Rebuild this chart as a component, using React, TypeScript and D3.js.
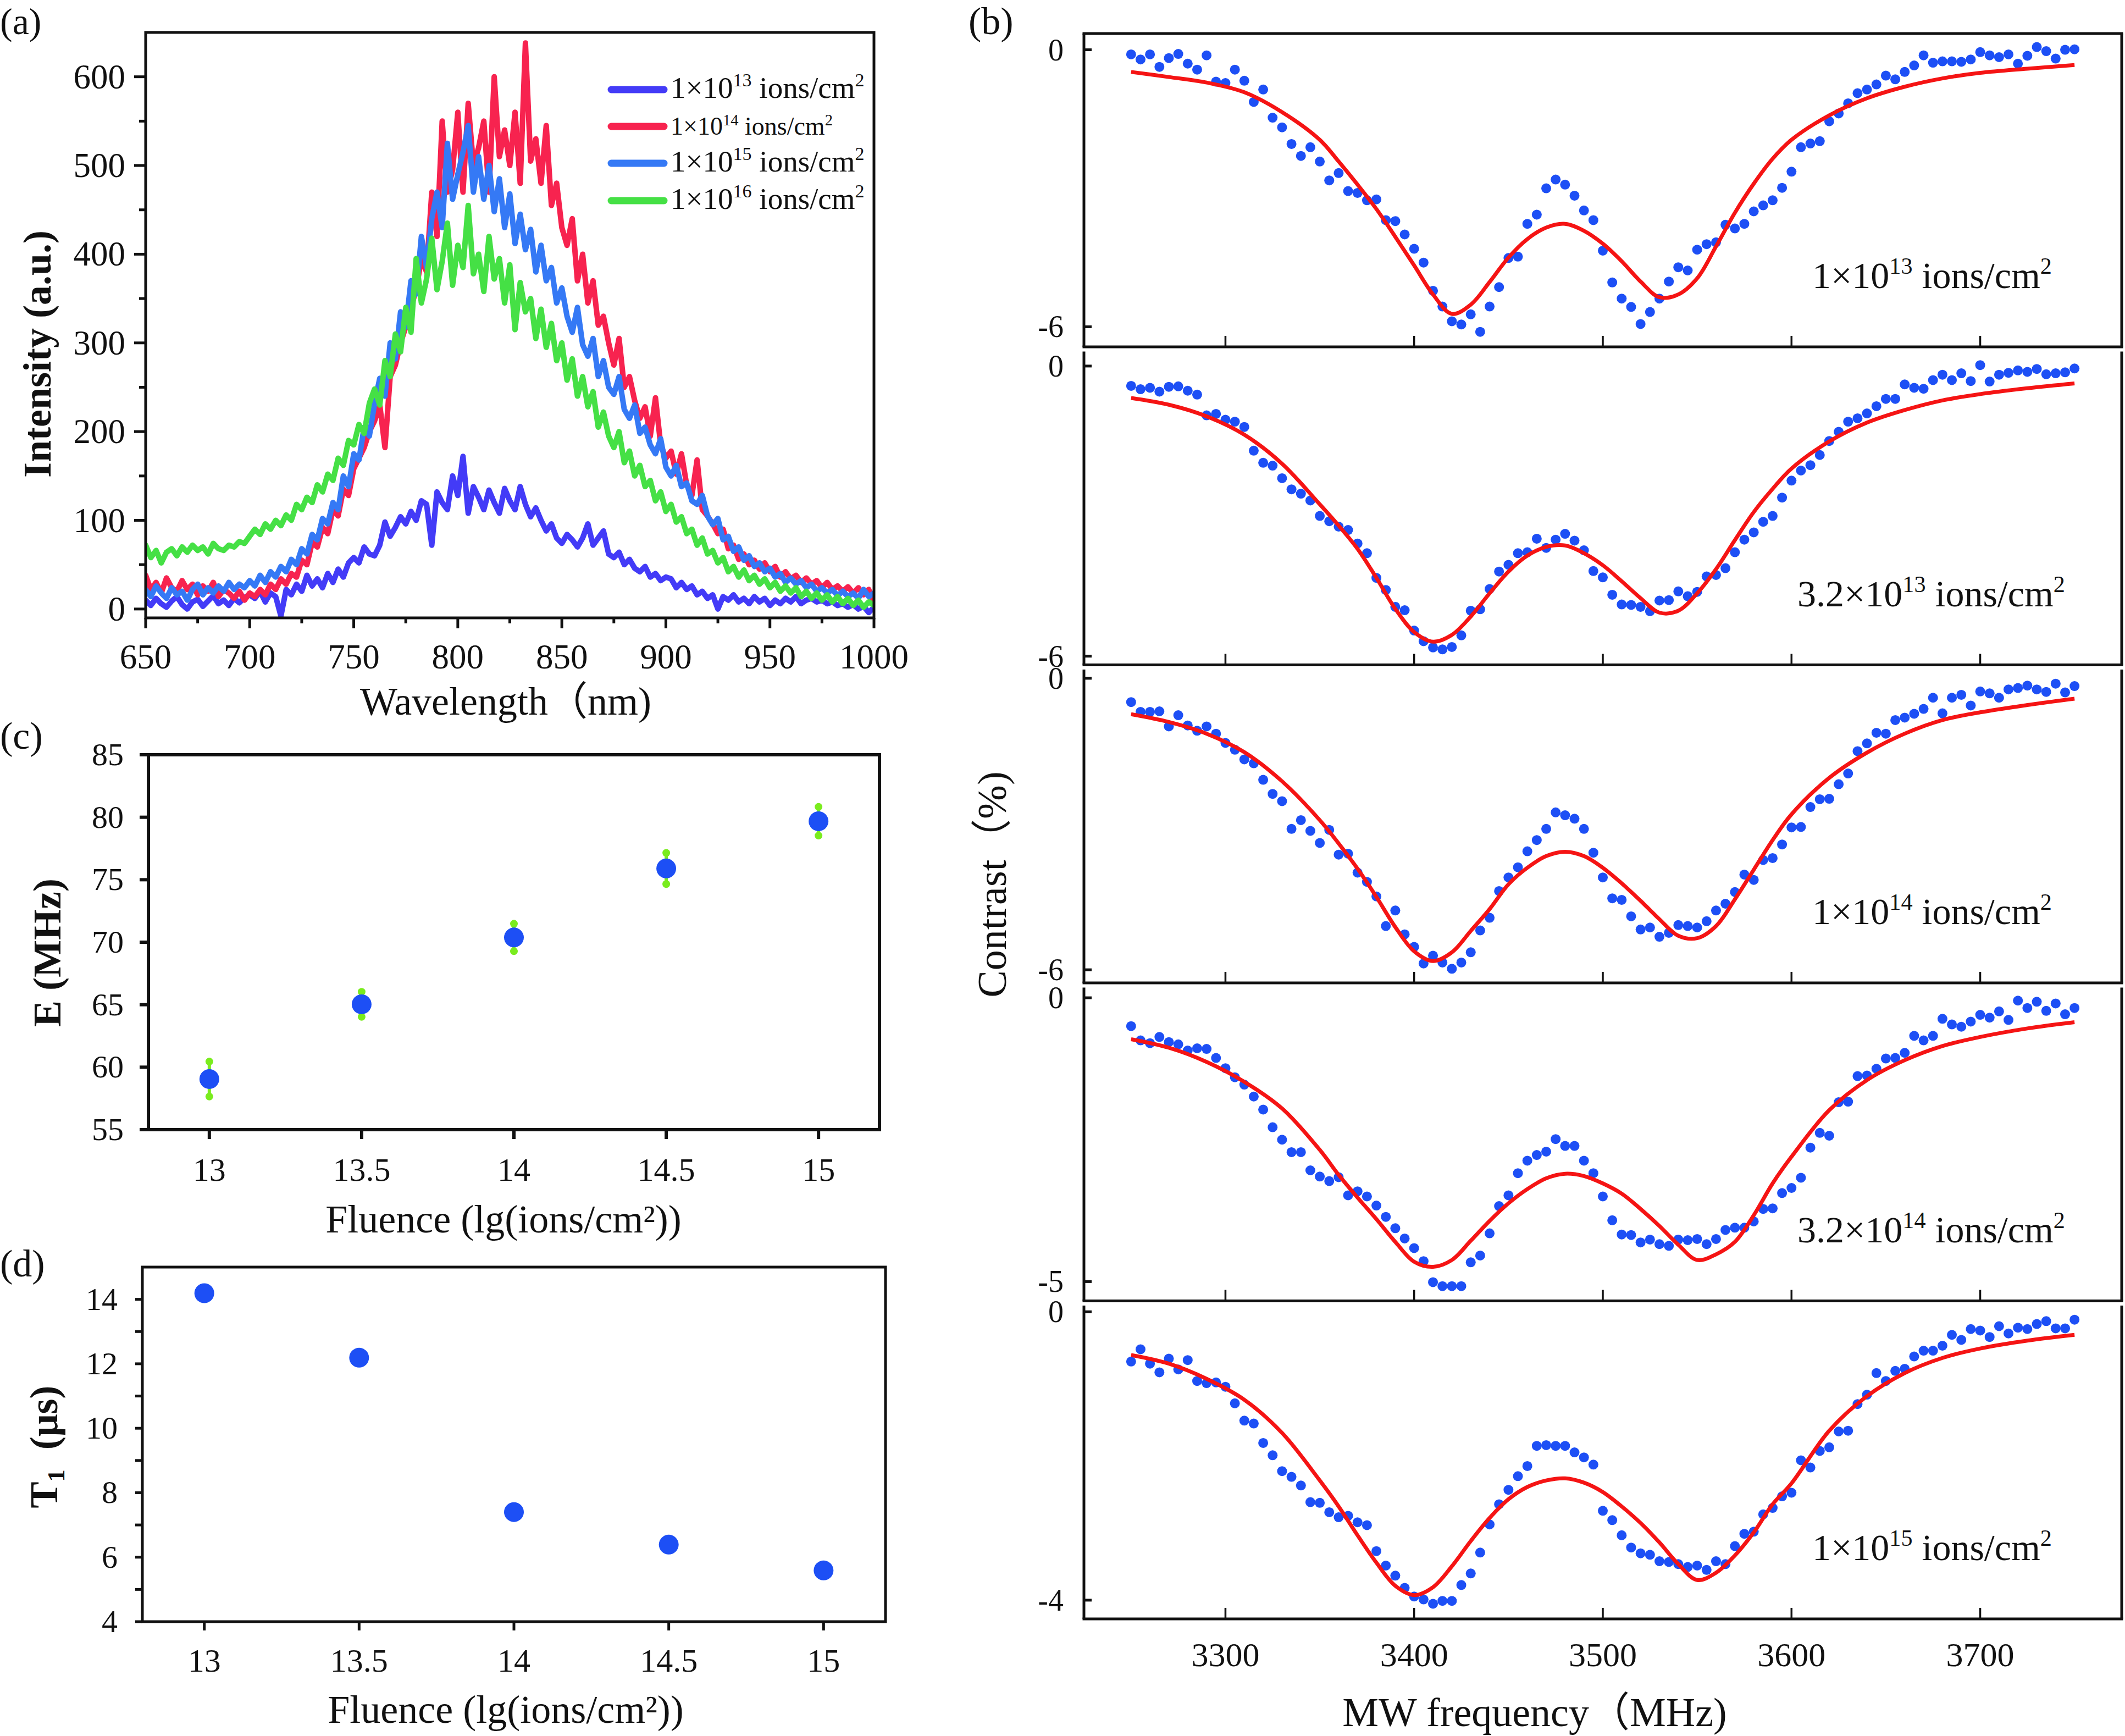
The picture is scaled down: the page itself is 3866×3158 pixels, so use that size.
import React from 'react';
import * as d3 from 'd3';

// ---------------- Panel (a): PL spectra ----------------
const wavelengthStart = 650;
const wavelengthStep = 2.5;
const intensity1e13 = [
  10, 4, 12, 6, 2, 9, 14, 5, 0, 8, 11, 3, 9, 15, 6, 10, 4, 12, 7, 13, 16,
  12, 20, 8, 18, 14, -8, 22, 16, 28, 20, 38, 26, 34, 24, 40, 30, 45, 36, 52,
  58, 52, 70, 62, 60, 72, 98, 82, 92, 104, 96, 110, 100, 122, 118, 72, 132, 120, 112, 150, 128,
  172, 108, 138, 126, 112, 134, 120, 108, 136, 122, 112, 138, 118, 104, 114, 100, 88, 96, 80, 74,
  84, 78, 70, 80, 96, 72, 80, 88, 62, 58, 64, 50, 56, 46, 42, 48, 36, 40, 32, 36,
  34, 24, 30, 22, 26, 16, 20, 12, 16, 0, 14, 10, 16, 8, 12, 6, 14, 8, 12, 4,
  10, 6, 12, 8, 14, 6, 10, 12, 8, 10, 6, 8, 4, 6, 2, 5, 0, 3, -4, 2,
];
const intensity1e14 = [
  38, 22, 30, 18, 35, 24, 20, 32, 22, 28, 16, 26, 20, 30, 14, 22, 18, 12, 20, 10, 18,
  14, 22, 16, 28, 22, 34, 28, 40, 36, 55, 50, 75, 70, 92, 85, 112, 105, 135, 128,
  158, 170, 182, 200, 212, 230, 182, 262, 275, 300, 318, 340, 360, 395, 380, 470, 420, 550, 470, 495, 560,
  470, 570, 500, 520, 550, 470, 600, 510, 540, 500, 560, 480, 638, 505, 530, 480, 545, 455, 480, 430,
  410, 440, 370, 400, 345, 370, 320, 330, 300, 275, 305, 250, 262, 235, 215, 228, 195, 238, 185, 170,
  178, 152, 175, 140, 128, 168, 112, 105, 96, 85, 90, 68, 72, 56, 62, 50, 55, 45, 52, 42,
  48, 36, 42, 34, 38, 30, 35, 28, 32, 24, 30, 22, 26, 20, 25, 18, 24, 16, 22, 6,
];
const intensity1e15 = [
  22, 14, 26, 18, 12, 24, 16, 20, 10, 22, 28, 16, 24, 18, 26, 20, 30, 22, 28, 24, 32,
  26, 38, 30, 42, 36, 48, 42, 56, 50, 68, 62, 84, 78, 102, 96, 120, 112, 150, 138,
  175, 168, 205, 195, 232, 260, 240, 300, 282, 335, 318, 370, 355, 420, 385, 440, 470, 430, 525, 462, 490,
  515, 545, 470, 510, 462, 500, 448, 485, 430, 468, 412, 445, 405, 428, 380, 410, 370, 385, 345, 362,
  330, 312, 340, 298, 285, 305, 262, 280, 250, 242, 262, 225, 215, 230, 198, 205, 185, 175, 192, 160,
  150, 162, 138, 142, 122, 118, 128, 105, 95, 102, 78, 82, 65, 70, 55, 60, 48, 52, 42, 46,
  36, 40, 30, 35, 28, 32, 24, 28, 20, 24, 18, 22, 15, 20, 14, 18, 12, 22, 14, 18,
];
const intensity1e16 = [
  72, 58, 66, 52, 64, 68, 60, 70, 64, 72, 66, 70, 62, 74, 68, 66, 72, 70, 76, 74, 82,
  90, 84, 96, 90, 100, 94, 106, 100, 118, 112, 126, 120, 140, 132, 152, 145, 170, 162, 190,
  185, 208, 198, 232, 248, 230, 280, 262, 310, 290, 340, 312, 395, 345, 372, 418, 360, 392, 435, 365, 410,
  385, 455, 378, 400, 358, 420, 372, 395, 345, 388, 315, 368, 335, 350, 305, 338, 295, 322, 280, 300,
  258, 282, 240, 262, 228, 245, 205, 222, 195, 182, 200, 165, 178, 150, 162, 138, 145, 122, 132, 110,
  118, 98, 104, 85, 90, 72, 80, 62, 66, 52, 58, 42, 48, 36, 44, 32, 38, 28, 34, 24,
  30, 20, 26, 18, 24, 14, 20, 12, 18, 10, 16, 8, 14, 6, 12, 4, 10, 2, 8, 4,
];
const spectraExponents = ['13', '14', '15', '16'];
const spectraColors = ['#433bf7', '#f7234f', '#3579f5', '#45e045'];
const wavelengthTicks = [650, 700, 750, 800, 850, 900, 950, 1000];
const intensityTicks = [0, 100, 200, 300, 400, 500, 600];

// ---------------- Panel (c), (d) ----------------
const fluence = [13, 13.5, 14, 14.5, 15];
const splittingE = [59.05, 65.03, 70.38, 75.9, 79.68];
const splittingErr = [1.4, 1.0, 1.1, 1.25, 1.15];
const t1Values = [14.19, 12.19, 7.4, 6.39, 5.59];
const fluenceTicks = [13, 13.5, 14, 14.5, 15];
const eTicks = [55, 60, 65, 70, 75, 80, 85];
const t1Ticks = [4, 5, 6, 7, 8, 9, 10, 11, 12, 13, 14];

// ---------------- Panel (b): ODMR ----------------
const mwStart = 3250;
const mwStep = 5;
const contrast1 = [
  -0.10, -0.21, -0.10, -0.37, -0.18, -0.09, -0.30, -0.43, -0.12, -0.69,
  -0.72, -0.43, -0.67, -1.13, -0.86, -1.47, -1.68, -2.04, -2.30, -2.11,
  -2.42, -2.83, -2.67, -3.06, -3.10, -3.26, -3.24, -3.69, -3.71, -4.00,
  -4.31, -4.61, -5.22, -5.56, -5.88, -5.95, -5.73, -6.11, -5.56, -5.14,
  -4.51, -4.48, -3.77, -3.57, -3.00, -2.81, -2.92, -3.16, -3.48, -3.69,
  -4.35, -5.04, -5.39, -5.57, -5.94, -5.68, -5.39, -5.02, -4.71, -4.78,
  -4.33, -4.21, -4.17, -3.79, -3.87, -3.77, -3.50, -3.37, -3.26, -2.99,
  -2.64, -2.11, -2.03, -1.98, -1.55, -1.38, -1.16, -0.94, -0.86, -0.75,
  -0.56, -0.64, -0.48, -0.34, -0.12, -0.28, -0.25, -0.25, -0.26, -0.21,
  -0.05, -0.12, -0.16, -0.10, -0.30, -0.13, 0.06, -0.03, -0.19, 0.00, 0.01,
];
const contrast2 = [
  -0.41, -0.48, -0.45, -0.53, -0.43, -0.42, -0.51, -0.59, -1.02, -0.99,
  -1.11, -1.15, -1.26, -1.75, -2.00, -2.06, -2.32, -2.55, -2.64, -2.78,
  -3.10, -3.21, -3.32, -3.39, -3.67, -3.87, -4.38, -4.63, -4.98, -5.05,
  -5.47, -5.69, -5.82, -5.86, -5.81, -5.57, -5.06, -5.03, -4.61, -4.25,
  -4.11, -3.87, -3.85, -3.57, -3.76, -3.59, -3.47, -3.61, -3.81, -4.24,
  -4.37, -4.73, -4.93, -4.94, -4.98, -5.07, -4.85, -4.84, -4.66, -4.76,
  -4.67, -4.35, -4.32, -4.18, -3.85, -3.59, -3.44, -3.22, -3.10, -2.72,
  -2.37, -2.16, -2.05, -1.84, -1.55, -1.36, -1.15, -1.08, -0.98, -0.83,
  -0.68, -0.68, -0.38, -0.45, -0.47, -0.29, -0.18, -0.29, -0.15, -0.31,
  0.02, -0.32, -0.18, -0.14, -0.09, -0.12, -0.06, -0.17, -0.15, -0.13, -0.05,
];
const contrast3 = [
  -0.49, -0.69, -0.69, -0.68, -0.99, -0.76, -0.97, -1.08, -0.99, -1.14,
  -1.33, -1.47, -1.67, -1.75, -2.09, -2.38, -2.53, -3.10, -2.92, -3.14,
  -3.39, -3.12, -3.63, -3.61, -4.00, -4.19, -4.49, -5.10, -4.78, -5.27,
  -5.53, -5.87, -5.71, -5.85, -5.98, -5.85, -5.64, -5.19, -4.93, -4.38,
  -4.10, -3.89, -3.56, -3.33, -3.10, -2.76, -2.82, -2.89, -3.10, -3.59,
  -4.10, -4.53, -4.56, -4.90, -5.17, -5.13, -5.32, -5.24, -5.08, -5.10,
  -5.13, -5.00, -4.78, -4.64, -4.40, -4.04, -4.15, -3.74, -3.70, -3.42,
  -3.07, -3.06, -2.65, -2.49, -2.48, -2.18, -1.96, -1.50, -1.34, -1.12,
  -1.14, -0.86, -0.81, -0.73, -0.63, -0.40, -0.72, -0.40, -0.34, -0.56,
  -0.27, -0.31, -0.40, -0.23, -0.20, -0.15, -0.23, -0.28, -0.11, -0.29, -0.16,
];
const contrast4 = [
  -0.50, -0.75, -0.80, -0.69, -0.78, -0.82, -0.93, -0.89, -0.90, -1.06,
  -1.24, -1.40, -1.53, -1.74, -1.97, -2.28, -2.50, -2.72, -2.72, -3.04,
  -3.15, -3.23, -3.16, -3.48, -3.41, -3.50, -3.66, -3.86, -4.06, -4.24,
  -4.41, -4.64, -5.01, -5.08, -5.08, -5.08, -4.66, -4.54, -4.15, -3.67,
  -3.48, -3.09, -2.87, -2.77, -2.71, -2.49, -2.61, -2.61, -2.87, -3.09,
  -3.50, -3.92, -4.17, -4.18, -4.31, -4.26, -4.34, -4.37, -4.26, -4.27,
  -4.25, -4.34, -4.25, -4.09, -4.05, -4.05, -3.94, -3.72, -3.71, -3.44,
  -3.35, -3.17, -2.64, -2.38, -2.43, -1.84, -1.83, -1.38, -1.37, -1.25,
  -1.07, -1.06, -0.97, -0.67, -0.75, -0.67, -0.37, -0.47, -0.51, -0.42,
  -0.30, -0.35, -0.24, -0.39, -0.05, -0.18, -0.07, -0.23, -0.10, -0.29, -0.18,
];
const contrast5 = [
  -0.69, -0.52, -0.72, -0.84, -0.65, -0.80, -0.67, -0.96, -0.99, -0.98,
  -1.04, -1.27, -1.51, -1.55, -1.82, -1.99, -2.21, -2.29, -2.41, -2.64,
  -2.65, -2.78, -2.85, -2.83, -2.92, -2.96, -3.32, -3.52, -3.66, -3.83,
  -3.95, -3.99, -4.05, -4.01, -4.01, -3.79, -3.63, -3.34, -2.95, -2.67,
  -2.47, -2.28, -2.14, -1.86, -1.85, -1.86, -1.86, -1.95, -2.02, -2.12,
  -2.76, -2.89, -3.10, -3.27, -3.35, -3.37, -3.46, -3.47, -3.50, -3.54,
  -3.52, -3.58, -3.46, -3.50, -3.25, -3.08, -3.05, -2.81, -2.72, -2.56,
  -2.51, -2.06, -2.16, -1.93, -1.88, -1.66, -1.65, -1.28, -1.15, -0.85,
  -0.96, -0.82, -0.79, -0.62, -0.54, -0.54, -0.47, -0.32, -0.39, -0.24,
  -0.26, -0.35, -0.20, -0.30, -0.22, -0.24, -0.17, -0.13, -0.23, -0.23, -0.11,
];
const fitFreq = [
  3250, 3270, 3290, 3310, 3330, 3350, 3360, 3370, 3380, 3390, 3400, 3410, 3420,
  3430, 3440, 3450, 3460, 3470, 3480, 3490, 3500, 3510, 3520, 3530, 3540, 3550,
  3560, 3570, 3580, 3590, 3600, 3620, 3640, 3660, 3680, 3700, 3725, 3750,
];
const fit1 = [
  -0.48, -0.59, -0.71, -0.92, -1.35, -1.95, -2.42, -2.92, -3.45, -4.05, -4.67, -5.30, -5.72,
  -5.52, -5.03, -4.50, -4.10, -3.85, -3.77, -3.92, -4.20, -4.58, -5.02, -5.36, -5.30, -4.95,
  -4.26, -3.53, -2.90, -2.36, -1.95, -1.42, -1.05, -0.80, -0.62, -0.50, -0.41, -0.33,
];
const fit2 = [
  -0.66, -0.80, -1.04, -1.42, -2.02, -2.86, -3.30, -3.78, -4.38, -5.02, -5.50, -5.70, -5.56,
  -5.18, -4.70, -4.25, -3.92, -3.74, -3.71, -3.87, -4.12, -4.45, -4.80, -5.10, -5.06, -4.70,
  -4.20, -3.60, -3.02, -2.54, -2.12, -1.56, -1.17, -0.91, -0.71, -0.58, -0.46, -0.36,
];
const fit3 = [
  -0.74, -0.90, -1.14, -1.52, -2.12, -2.92, -3.40, -3.92, -4.50, -5.12, -5.62, -5.82, -5.64,
  -5.20, -4.75, -4.24, -3.90, -3.66, -3.57, -3.66, -3.90, -4.22, -4.58, -4.96, -5.30, -5.35,
  -5.10, -4.55, -3.94, -3.33, -2.80, -2.05, -1.53, -1.14, -0.86, -0.70, -0.55, -0.42,
];
const fit4 = [
  -0.73, -0.88, -1.13, -1.48, -1.95, -2.68, -3.12, -3.52, -3.90, -4.30, -4.65, -4.74, -4.62,
  -4.28, -3.93, -3.62, -3.37, -3.18, -3.10, -3.14, -3.27, -3.45, -3.72, -4.02, -4.35, -4.62,
  -4.52, -4.30, -3.83, -3.27, -2.80, -1.98, -1.45, -1.10, -0.85, -0.69, -0.54, -0.43,
];
const fit5 = [
  -0.60, -0.72, -0.93, -1.22, -1.68, -2.34, -2.70, -3.10, -3.48, -3.80, -3.93, -3.82, -3.53,
  -3.18, -2.86, -2.60, -2.43, -2.34, -2.31, -2.37, -2.50, -2.70, -2.93, -3.20, -3.50, -3.72,
  -3.62, -3.38, -3.06, -2.67, -2.38, -1.65, -1.17, -0.85, -0.64, -0.51, -0.40, -0.32,
];
const odmrMantissa = ['1', '3.2', '1', '3.2', '1'];
const odmrExponent = ['13', '13', '14', '14', '15'];
const odmrYTickLow = [-6, -6, -6, -5, -4];
const mwTicks = [3300, 3400, 3500, 3600, 3700];

// ---------------- styling ----------------
const FONT = "'Liberation Serif','Times New Roman','Noto Sans CJK SC',serif";
const DOT_BLUE = '#1d4ff5';
const FIT_RED = '#f51414';
const ERR_GREEN = '#7aec1e';

type Part = { t: string; sup?: boolean; sub?: boolean };
function RichText(props: {
  x: number; y: number; size: number; parts: Part[]; anchor?: string; weight?: string | number; rotate?: boolean;
}) {
  const { x, y, size, parts, anchor = 'start', weight = 'normal', rotate = false } = props;
  let shift = 0;
  const spans = parts.map((p, i) => {
    const target = p.sup ? -0.38 * size : p.sub ? 0.18 * size : 0;
    const dy = target - shift;
    shift = target;
    return (
      <tspan key={i} dy={dy} fontSize={p.sup || p.sub ? size * 0.62 : size}>
        {p.t}
      </tspan>
    );
  });
  return (
    <text
      x={rotate ? 0 : x}
      y={rotate ? 0 : y}
      fontSize={size}
      textAnchor={anchor as any}
      fontWeight={weight}
      fill="#111"
      style={{ whiteSpace: 'pre' }}
      transform={rotate ? `translate(${x},${y}) rotate(-90)` : undefined}
    >
      {spans}
    </text>
  );
}

function PanelA() {
  const L = 265, R = 1590, T = 59, B = 1124;
  const x = d3.scaleLinear().domain([650, 1000]).range([L, R]);
  const y = d3.scaleLinear().domain([-10, 650]).range([B, T]);
  const wl = intensity1e13.map((_, i) => wavelengthStart + i * wavelengthStep);
  const lineGen = d3
    .line<number>()
    .x((_, i) => x(wl[i]))
    .y((v) => y(v));
  const series = [intensity1e13, intensity1e14, intensity1e15, intensity1e16];
  const xMinor = wavelengthTicks.slice(0, -1).map((t) => t + 25);
  const yMinor = intensityTicks.slice(0, -1).map((t) => t + 50);
  const legendY = [163, 230, 297, 365];
  const legendSize = [55, 46, 55, 55];
  return (
    <g>
      <defs>
        <clipPath id="clipA">
          <rect x={L} y={T} width={R - L} height={B - T} />
        </clipPath>
      </defs>
      <g clipPath="url(#clipA)">
        {series.map((s, k) => (
          <path
            key={k}
            d={lineGen(s) || ''}
            fill="none"
            stroke={spectraColors[k]}
            strokeWidth={10}
            strokeLinejoin="round"
            strokeLinecap="round"
          />
        ))}
      </g>
      <rect x={L} y={T} width={R - L} height={B - T} fill="none" stroke="#111" strokeWidth={5} />
      {wavelengthTicks.map((t) => (
        <g key={t}>
          <line x1={x(t)} x2={x(t)} y1={B} y2={B + 19} stroke="#111" strokeWidth={5} />
          <text x={x(t)} y={1216} fontSize={63} textAnchor="middle" fill="#111">{t}</text>
        </g>
      ))}
      {xMinor.map((t) => (
        <line key={t} x1={x(t)} x2={x(t)} y1={B} y2={B + 10} stroke="#111" strokeWidth={5} />
      ))}
      {intensityTicks.map((t) => (
        <g key={t}>
          <line x1={L - 21} x2={L} y1={y(t)} y2={y(t)} stroke="#111" strokeWidth={5} />
          <text x={228} y={y(t) + 21} fontSize={63} textAnchor="end" fill="#111">{t}</text>
        </g>
      ))}
      {yMinor.map((t) => (
        <line key={t} x1={L - 12} x2={L} y1={y(t)} y2={y(t)} stroke="#111" strokeWidth={5} />
      ))}
      {spectraExponents.map((e, k) => (
        <g key={e}>
          <line x1={1112} x2={1208} y1={legendY[k]} y2={legendY[k]} stroke={spectraColors[k]} strokeWidth={13} strokeLinecap="round" />
          <RichText
            x={1220}
            y={legendY[k] + 15}
            size={legendSize[k]}
            parts={[{ t: '1×10' }, { t: e, sup: true }, { t: ' ions/cm' }, { t: '2', sup: true }]}
          />
        </g>
      ))}
      <RichText x={920} y={1300} size={72} anchor="middle" parts={[{ t: 'Wavelength（nm)' }]} />
      <RichText x={92} y={644} size={72} anchor="middle" weight="bold" rotate parts={[{ t: 'Intensity (a.u.)' }]} />
      <text x={0} y={62} fontSize={68} fill="#111">(a)</text>
    </g>
  );
}

function PanelB() {
  const L = 1972, R = 3860;
  const x = d3.scaleLinear().domain([3225, 3775]).range([L, R]);
  const freqs = contrast1.map((_, i) => mwStart + i * mwStep);
  const contrasts = [contrast1, contrast2, contrast3, contrast4, contrast5];
  const fits = [fit1, fit2, fit3, fit4, fit5];
  const domains: [number, number][] = [
    [-6.435, 0.352],
    [-6.18, 0.3],
    [-6.27, 0.18],
    [-5.34, 0.18],
    [-4.26, 0.086],
  ];
  const H = 570;
  return (
    <g>
      {contrasts.map((c, k) => {
        const top = 61 + k * 578.5;
        const bottom = top + H;
        const y = d3.scaleLinear().domain(domains[k]).range([bottom, top]);
        const fitLine = d3
          .line<number>()
          .x((_, i) => x(fitFreq[i]))
          .y((v) => y(v))
          .curve(d3.curveCatmullRom.alpha(0.5));
        const labelX = odmrMantissa[k] === '1' ? 3297 : 3270;
        return (
          <g key={k}>
            {c.map((v, i) => (
              <circle key={i} cx={x(freqs[i])} cy={y(v)} r={9} fill={DOT_BLUE} />
            ))}
            <path d={fitLine(fits[k]) || ''} fill="none" stroke={FIT_RED} strokeWidth={7} strokeLinejoin="round" />
            <line x1={L} x2={L} y1={top} y2={bottom} stroke="#111" strokeWidth={5} />
            <line x1={R} x2={R} y1={top} y2={bottom} stroke="#111" strokeWidth={5} />
            <line x1={L - 2.5} x2={R + 2.5} y1={bottom} y2={bottom} stroke="#111" strokeWidth={5} />
            {k === 0 && <line x1={L - 2.5} x2={R + 2.5} y1={top} y2={top} stroke="#111" strokeWidth={5} />}
            {mwTicks.map((t) => (
              <line key={t} x1={x(t)} x2={x(t)} y1={bottom} y2={bottom - 20} stroke="#111" strokeWidth={3.5} />
            ))}
            {[0, odmrYTickLow[k]].map((t) => (
              <g key={t}>
                <line x1={L} x2={L + 14} y1={y(t)} y2={y(t)} stroke="#111" strokeWidth={5} />
                <text x={1935} y={y(t) + 19} fontSize={56} textAnchor="end" fill="#111">{t}</text>
              </g>
            ))}
            <RichText
              x={labelX}
              y={top + 463}
              size={68}
              parts={[{ t: odmrMantissa[k] + '×10' }, { t: odmrExponent[k], sup: true }, { t: ' ions/cm' }, { t: '2', sup: true }]}
            />
          </g>
        );
      })}
      {mwTicks.map((t) => (
        <text key={t} x={x(t)} y={3031} fontSize={62} textAnchor="middle" fill="#111">{t}</text>
      ))}
      <RichText x={2792} y={3140} size={74} anchor="middle" parts={[{ t: 'MW frequency（MHz)' }]} />
      <RichText x={1830} y={1609} size={74} anchor="middle" rotate parts={[{ t: 'Contrast（%)' }]} />
      <text x={1762} y={62} fontSize={70} fill="#111">(b)</text>
    </g>
  );
}

function PanelC() {
  const L = 270, R = 1600, T = 1373, B = 2055;
  const x = d3.scaleLinear().domain([12.8, 15.2]).range([L, R]);
  const y = d3.scaleLinear().domain([55, 85]).range([B, T]);
  return (
    <g>
      {fluenceTicks.map((t) => (
        <g key={t}>
          <line x1={x(t)} x2={x(t)} y1={B} y2={B + 17} stroke="#111" strokeWidth={6} />
          <text x={x(t)} y={2148} fontSize={60} textAnchor="middle" fill="#111">{t}</text>
        </g>
      ))}
      {eTicks.map((t) => (
        <g key={t}>
          <line x1={L - 16} x2={L} y1={y(t)} y2={y(t)} stroke="#111" strokeWidth={6} />
          <text x={225} y={y(t) + 19} fontSize={58} textAnchor="end" fill="#111">{t}</text>
        </g>
      ))}
      {fluence.map((f, i) => {
        const lo = splittingE[i] - splittingErr[i];
        const hi = splittingE[i] + splittingErr[i];
        return (
          <g key={f}>
            <line x1={x(f)} x2={x(f)} y1={y(lo)} y2={y(hi)} stroke={ERR_GREEN} strokeWidth={6} />
            <circle cx={x(f)} cy={y(lo)} r={7} fill={ERR_GREEN} />
            <circle cx={x(f)} cy={y(hi)} r={7} fill={ERR_GREEN} />
          </g>
        );
      })}
      {fluence.map((f, i) => (
        <circle key={f} cx={x(f)} cy={y(splittingE[i])} r={18} fill={DOT_BLUE} />
      ))}
      <rect x={L} y={T} width={R - L} height={B - T} fill="none" stroke="#111" strokeWidth={6} />
      <RichText x={916} y={2242} size={72} anchor="middle" parts={[{ t: 'Fluence (lg(ions/cm²))' }]} />
      <RichText x={110} y={1733} size={72} anchor="middle" weight="bold" rotate parts={[{ t: 'E (MHz)' }]} />
      <text x={0} y={1362} fontSize={70} fill="#111">(c)</text>
    </g>
  );
}

function PanelD() {
  const L = 259, R = 1611, T = 2305, B = 2950;
  const x = d3.scaleLinear().domain([12.8, 15.2]).range([L, R]);
  const y = d3.scaleLinear().domain([4, 15]).range([B, T]);
  return (
    <g>
      {fluenceTicks.map((t) => (
        <g key={t}>
          <line x1={x(t)} x2={x(t)} y1={B} y2={B + 16} stroke="#111" strokeWidth={5} />
          <text x={x(t)} y={3041} fontSize={60} textAnchor="middle" fill="#111">{t}</text>
        </g>
      ))}
      {t1Ticks.map((t) => (
        <g key={t}>
          <line x1={L - 13} x2={L} y1={y(t)} y2={y(t)} stroke="#111" strokeWidth={5} />
          {t % 2 === 0 && (
            <text x={214} y={y(t) + 19} fontSize={58} textAnchor="end" fill="#111">{t}</text>
          )}
        </g>
      ))}
      {fluence.map((f, i) => (
        <circle key={f} cx={x(f)} cy={y(t1Values[i])} r={18} fill={DOT_BLUE} />
      ))}
      <rect x={L} y={T} width={R - L} height={B - T} fill="none" stroke="#111" strokeWidth={5} />
      <RichText x={920} y={3134} size={72} anchor="middle" parts={[{ t: 'Fluence (lg(ions/cm²))' }]} />
      <RichText
        x={104}
        y={2632}
        size={72}
        anchor="middle"
        weight="bold"
        rotate
        parts={[{ t: 'T' }, { t: '1', sub: true }, { t: '  (μs)' }]}
      />
      <text x={0} y={2322} fontSize={70} fill="#111">(d)</text>
    </g>
  );
}

export default function App() {
  const W = 3866, H = 3158;
  return (
    <svg
      width={W}
      height={H}
      viewBox={`0 0 ${W} ${H}`}
      style={{ position: 'absolute', left: 0, top: 0, background: '#fff' }}
      fontFamily={FONT}
    >
      <rect x={0} y={0} width={W} height={H} fill="#fff" />
      <PanelA />
      <PanelB />
      <PanelC />
      <PanelD />
    </svg>
  );
}
